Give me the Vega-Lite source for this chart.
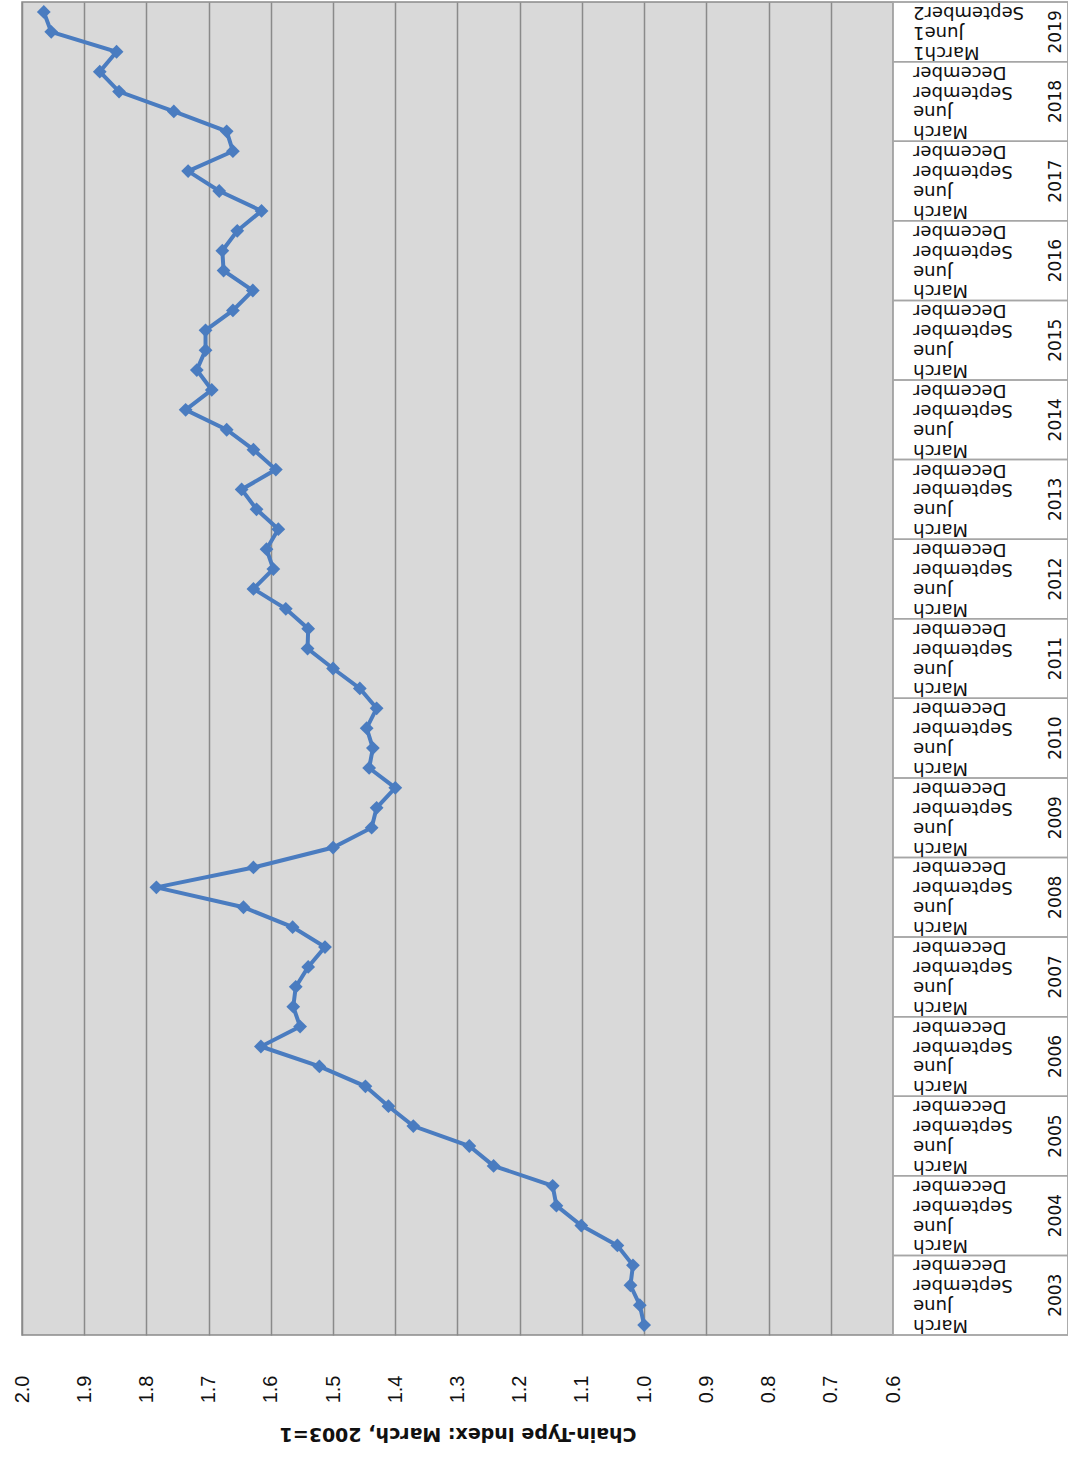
{
  "$schema": "https://vega.github.io/schema/vega-lite/v6.json",
  "padding": {"left": 11, "top": 0, "right": 0, "bottom": 14},
  "background": "white",
  "spacing": 0,
  "bounds": "flush",
  "data": {"values": [
    {"i": 0, "year": "2003", "month": "March", "value": 1.000},
    {"i": 1, "year": "2003", "month": "June", "value": 1.007},
    {"i": 2, "year": "2003", "month": "September", "value": 1.022},
    {"i": 3, "year": "2003", "month": "December", "value": 1.018},
    {"i": 4, "year": "2004", "month": "March", "value": 1.043},
    {"i": 5, "year": "2004", "month": "June", "value": 1.101},
    {"i": 6, "year": "2004", "month": "September", "value": 1.141},
    {"i": 7, "year": "2004", "month": "December", "value": 1.147},
    {"i": 8, "year": "2005", "month": "March", "value": 1.242},
    {"i": 9, "year": "2005", "month": "June", "value": 1.281},
    {"i": 10, "year": "2005", "month": "September", "value": 1.371},
    {"i": 11, "year": "2005", "month": "December", "value": 1.411},
    {"i": 12, "year": "2006", "month": "March", "value": 1.448},
    {"i": 13, "year": "2006", "month": "June", "value": 1.522},
    {"i": 14, "year": "2006", "month": "September", "value": 1.616},
    {"i": 15, "year": "2006", "month": "December", "value": 1.553},
    {"i": 16, "year": "2007", "month": "March", "value": 1.564},
    {"i": 17, "year": "2007", "month": "June", "value": 1.560},
    {"i": 18, "year": "2007", "month": "September", "value": 1.540},
    {"i": 19, "year": "2007", "month": "December", "value": 1.513},
    {"i": 20, "year": "2008", "month": "March", "value": 1.565},
    {"i": 21, "year": "2008", "month": "June", "value": 1.644},
    {"i": 22, "year": "2008", "month": "September", "value": 1.784},
    {"i": 23, "year": "2008", "month": "December", "value": 1.628},
    {"i": 24, "year": "2009", "month": "March", "value": 1.500},
    {"i": 25, "year": "2009", "month": "June", "value": 1.438},
    {"i": 26, "year": "2009", "month": "September", "value": 1.430},
    {"i": 27, "year": "2009", "month": "December", "value": 1.400},
    {"i": 28, "year": "2010", "month": "March", "value": 1.442},
    {"i": 29, "year": "2010", "month": "June", "value": 1.436},
    {"i": 30, "year": "2010", "month": "September", "value": 1.446},
    {"i": 31, "year": "2010", "month": "December", "value": 1.430},
    {"i": 32, "year": "2011", "month": "March", "value": 1.457},
    {"i": 33, "year": "2011", "month": "June", "value": 1.500},
    {"i": 34, "year": "2011", "month": "September", "value": 1.541},
    {"i": 35, "year": "2011", "month": "December", "value": 1.540},
    {"i": 36, "year": "2012", "month": "March", "value": 1.576},
    {"i": 37, "year": "2012", "month": "June", "value": 1.628},
    {"i": 38, "year": "2012", "month": "September", "value": 1.596},
    {"i": 39, "year": "2012", "month": "December", "value": 1.607},
    {"i": 40, "year": "2013", "month": "March", "value": 1.588},
    {"i": 41, "year": "2013", "month": "June", "value": 1.623},
    {"i": 42, "year": "2013", "month": "September", "value": 1.647},
    {"i": 43, "year": "2013", "month": "December", "value": 1.592},
    {"i": 44, "year": "2014", "month": "March", "value": 1.628},
    {"i": 45, "year": "2014", "month": "June", "value": 1.671},
    {"i": 46, "year": "2014", "month": "September", "value": 1.737},
    {"i": 47, "year": "2014", "month": "December", "value": 1.695},
    {"i": 48, "year": "2015", "month": "March", "value": 1.719},
    {"i": 49, "year": "2015", "month": "June", "value": 1.705},
    {"i": 50, "year": "2015", "month": "September", "value": 1.705},
    {"i": 51, "year": "2015", "month": "December", "value": 1.661},
    {"i": 52, "year": "2016", "month": "March", "value": 1.629},
    {"i": 53, "year": "2016", "month": "June", "value": 1.676},
    {"i": 54, "year": "2016", "month": "September", "value": 1.678},
    {"i": 55, "year": "2016", "month": "December", "value": 1.654},
    {"i": 56, "year": "2017", "month": "March", "value": 1.615},
    {"i": 57, "year": "2017", "month": "June", "value": 1.683},
    {"i": 58, "year": "2017", "month": "September", "value": 1.733},
    {"i": 59, "year": "2017", "month": "December", "value": 1.661},
    {"i": 60, "year": "2018", "month": "March", "value": 1.671},
    {"i": 61, "year": "2018", "month": "June", "value": 1.756},
    {"i": 62, "year": "2018", "month": "September", "value": 1.844},
    {"i": 63, "year": "2018", "month": "December", "value": 1.875},
    {"i": 64, "year": "2019", "month": "March1", "value": 1.848},
    {"i": 65, "year": "2019", "month": "June1", "value": 1.953},
    {"i": 66, "year": "2019", "month": "September2", "value": 1.965}
  ]},
  "hconcat": [
    {
      "width": 871,
      "height": 1333,
      "view": {"fill": "#d9d9d9", "stroke": "#8a8a8a", "strokeWidth": 1.5},
      "encoding": {
        "x": {
          "field": "value", "type": "quantitative",
          "scale": {"domain": [0.6, 2.0], "reverse": true, "nice": false, "zero": false},
          "axis": {
            "values": [0.6, 0.7, 0.8, 0.9, 1.0, 1.1, 1.2, 1.3, 1.4, 1.5, 1.6, 1.7, 1.8, 1.9, 2.0],
            "format": ".1f", "grid": true, "gridColor": "#8a8a8a", "gridWidth": 1.5, "gridOpacity": 1,
            "ticks": false, "domain": false,
            "labelAngle": 270, "labelPadding": 40, "labelFont": "Liberation Sans", "labelFontSize": 20, "labelColor": "#111111",
            "title": "Chain-Type Index: March, 2003=1", "titleAngle": 180,
            "titleFont": "DejaVu Sans", "titleFontSize": 19, "titleFontWeight": "bold", "titleColor": "#111111", "titlePadding": 40
          }
        },
        "y": {"field": "i", "type": "quantitative", "scale": {"domain": [-0.5, 66.5], "nice": false, "zero": false}, "axis": null}
      },
      "layer": [
        {"mark": {"type": "line", "color": "#4a7cc0", "strokeWidth": 4}, "encoding": {"order": {"field": "i", "type": "quantitative"}}},
        {"mark": {"type": "point", "shape": "diamond", "filled": true, "size": 190, "color": "#4a7cc0", "opacity": 1}}
      ]
    },
    {
      "width": 175,
      "height": 1333,
      "view": {"fill": "white", "stroke": "#a6a6a6", "strokeWidth": 1.5},
      "layer": [
        {
          "transform": [{"aggregate": [{"op": "min", "field": "i", "as": "lo"}, {"op": "max", "field": "i", "as": "hi"}], "groupby": ["year"]}],
          "mark": {"type": "rect", "filled": false, "stroke": "#a6a6a6", "strokeWidth": 1.5, "yOffset": 9.95, "y2Offset": -9.95},
          "encoding": {
            "x": {"datum": 0, "type": "quantitative", "scale": {"domain": [0, 1]}, "axis": null},
            "x2": {"datum": 1},
            "y": {"field": "lo", "type": "quantitative", "scale": {"domain": [-0.5, 66.5], "nice": false, "zero": false}, "axis": null},
            "y2": {"field": "hi"}
          }
        },
        {
          "mark": {"type": "text", "angle": 180, "align": "right", "baseline": "middle", "font": "DejaVu Sans", "fontSize": 18, "color": "#111111"},
          "encoding": {
            "x": {"datum": 0.115, "type": "quantitative", "scale": {"domain": [0, 1]}, "axis": null},
            "y": {"field": "i", "type": "quantitative", "scale": {"domain": [-0.5, 66.5], "nice": false, "zero": false}, "axis": null},
            "text": {"field": "month", "type": "nominal"}
          }
        },
        {
          "transform": [{"aggregate": [{"op": "mean", "field": "i", "as": "mid"}], "groupby": ["year"]}],
          "mark": {"type": "text", "angle": 270, "align": "center", "baseline": "middle", "font": "DejaVu Sans", "fontSize": 17, "color": "#111111"},
          "encoding": {
            "x": {"datum": 0.93, "type": "quantitative", "scale": {"domain": [0, 1]}, "axis": null},
            "y": {"field": "mid", "type": "quantitative", "scale": {"domain": [-0.5, 66.5], "nice": false, "zero": false}, "axis": null},
            "text": {"field": "year", "type": "nominal"}
          }
        }
      ]
    }
  ]
}
